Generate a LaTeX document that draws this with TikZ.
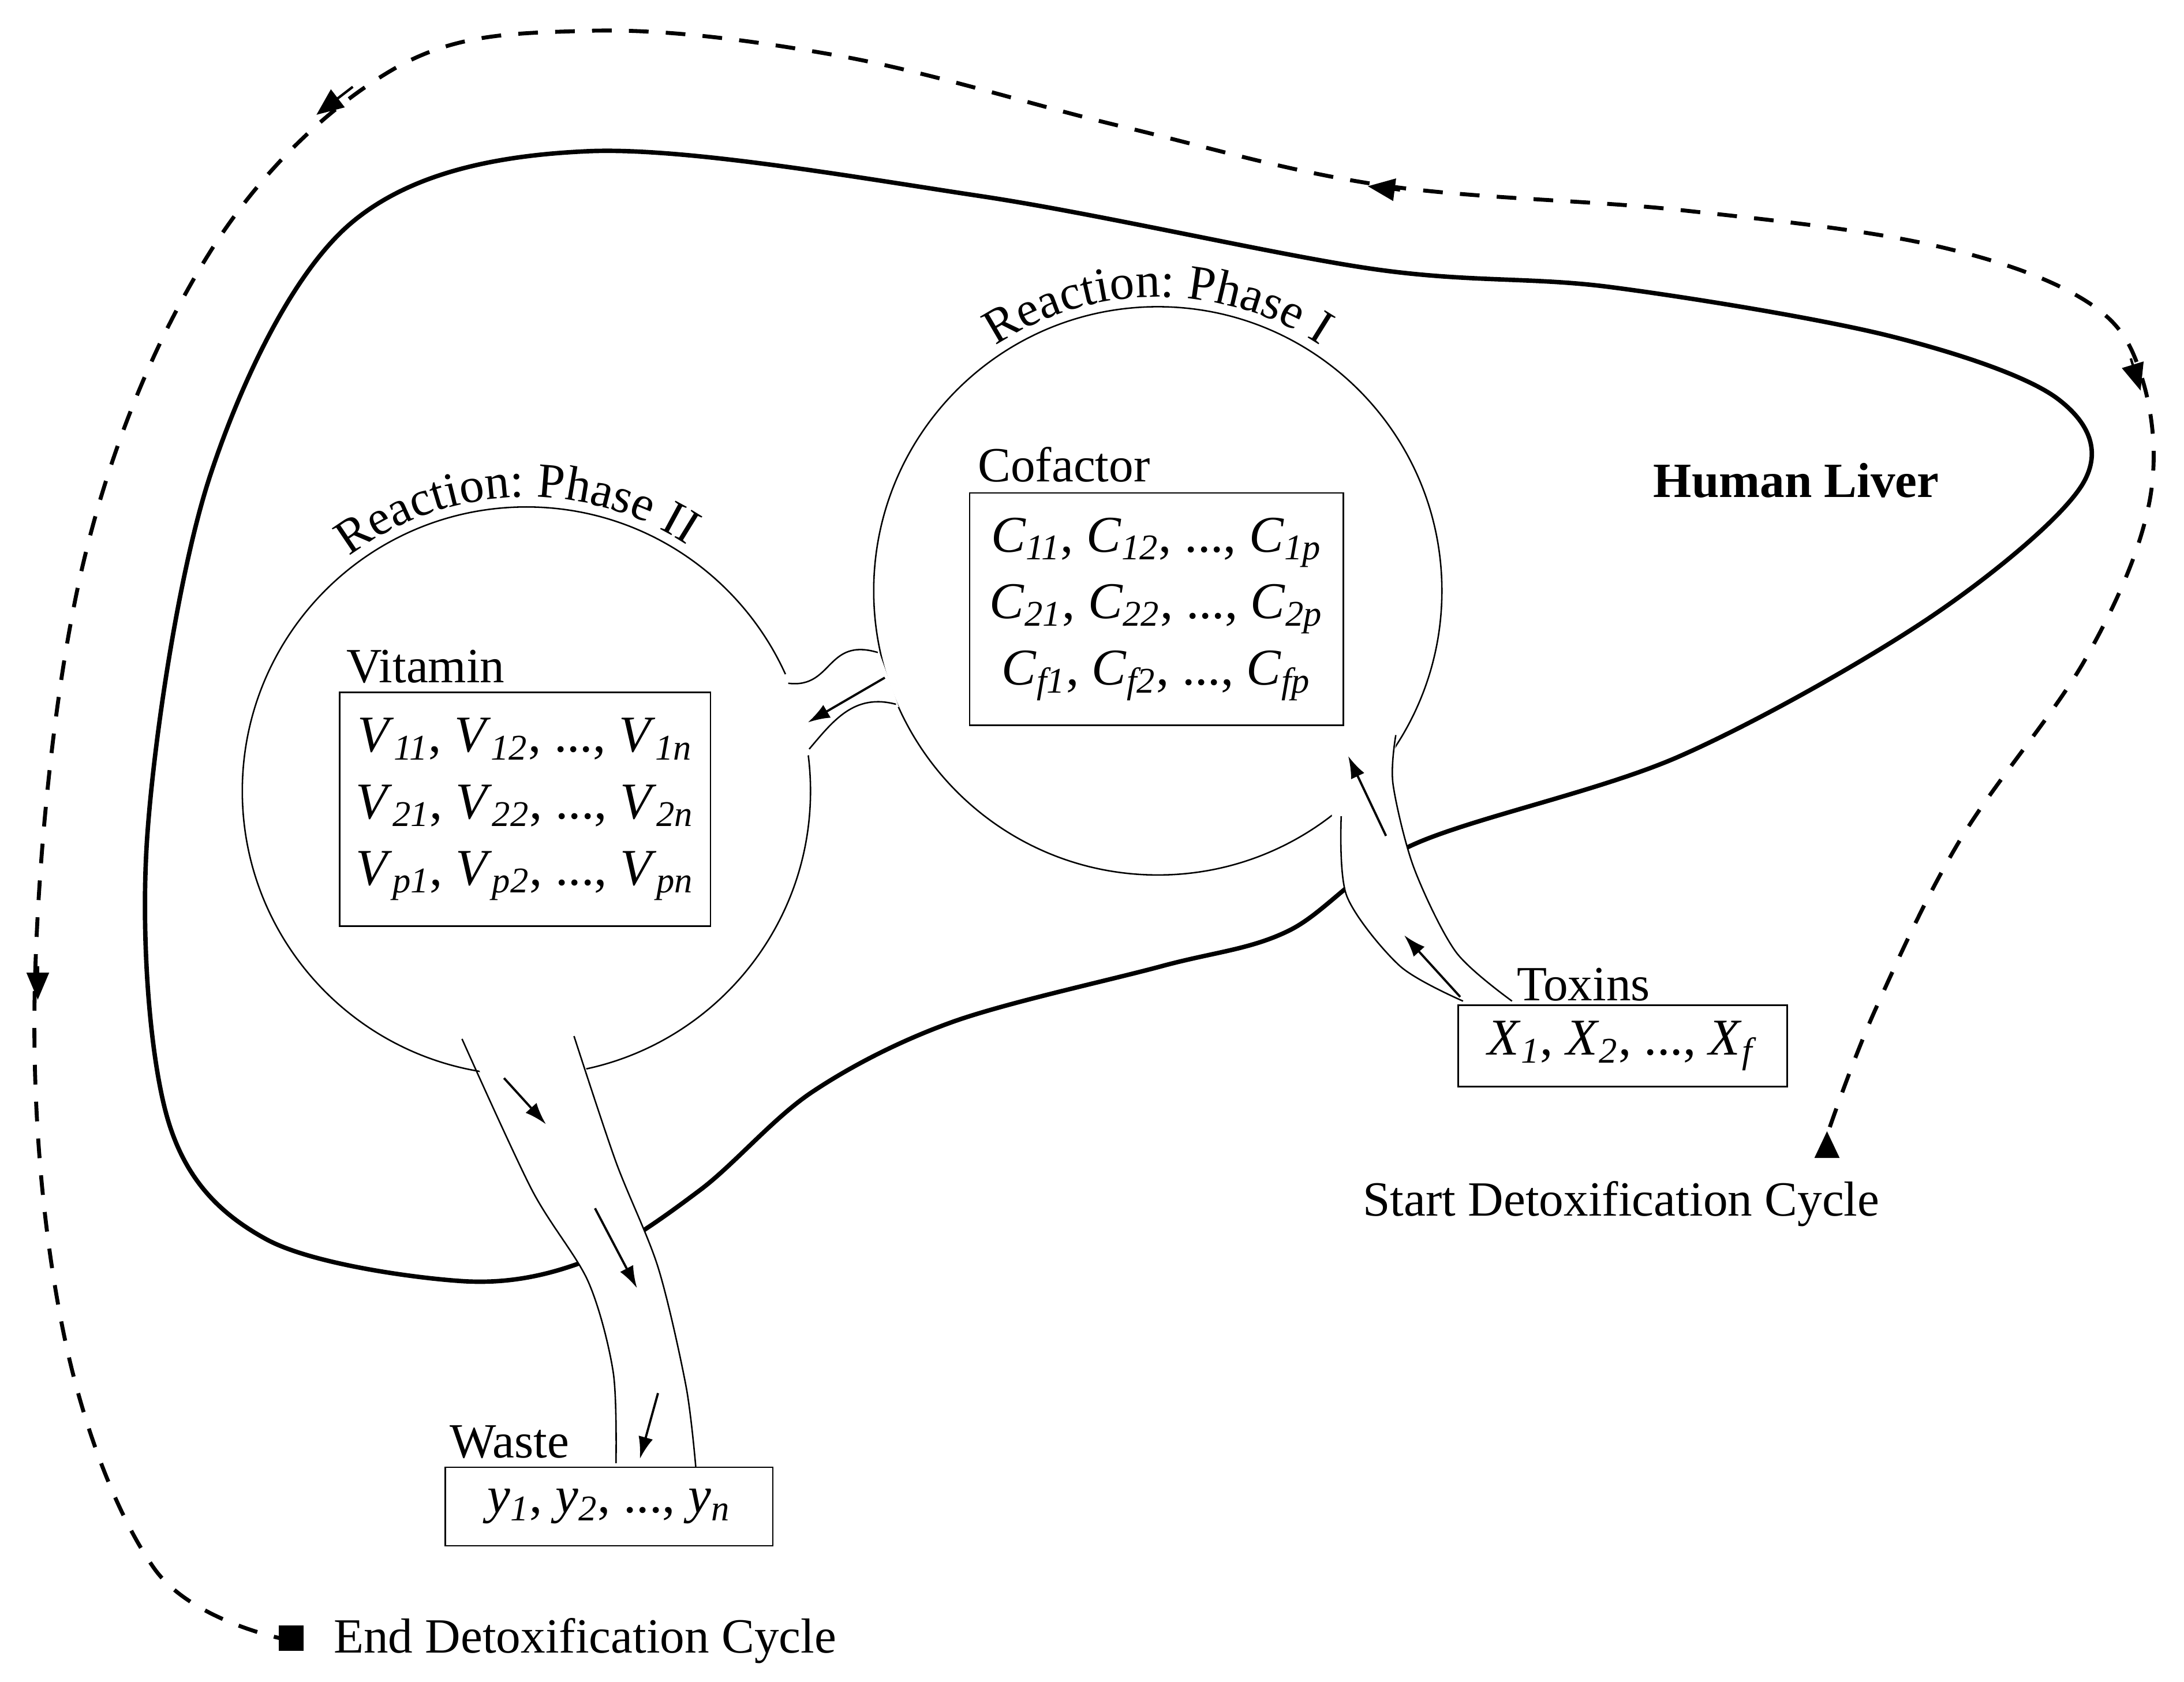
\documentclass[tikz,border=0pt]{standalone}
\usepackage{fontspec}
\setmainfont{Liberation Serif}
\usetikzlibrary{decorations.text,arrows.meta}
\newcommand{\sv}[2]{\textit{#1}\textsubscript{\textit{#2}}}
\begin{document}
\begin{tikzpicture}[x=0.02cm,y=-0.02cm,
  lbl/.style={font=\fontsize{20}{24}\selectfont, inner sep=0pt},
  box/.style={draw, line width=0.6pt, font=\fontsize{21}{27}\selectfont, align=center, inner sep=0pt},
  sar/.style={-{Latex[length=9pt,width=6pt]}, line width=0.9pt},
  dar/.style={-{Triangle[length=11pt,width=9pt]}, line width=1pt}]
\useasboundingbox (0,0) rectangle (1560,1201);
% liver
\draw[line width=1.8pt] plot[smooth cycle, tension=0.55] coordinates {
 (980,192) (700,140) (420,108) (250,160) (150,340) (105,600) (120,800) (190,885) (330,915) (420,900)
 (500,850) (580,780) (680,730) (830,690) (920,665) (1010,603) (1200,540) (1380,440) (1488,345) (1470,285) (1350,240) (1150,205)};
% circles
\node[circle, draw, line width=0.6pt, minimum size=231pt, fill=white] (c1) at (827,422) {};
\node[circle, draw, line width=0.6pt, minimum size=231pt, fill=white] (c2) at (376,565) {};
% channels
\fill[white] plot[smooth] coordinates {(330,735) (380,850) (420,915) (438,980) (440,1045)} -- plot[smooth] coordinates {(497,1048) (490,990) (470,905) (440,830) (410,735)} -- cycle;
\draw[line width=0.6pt] plot[smooth] coordinates {(330,742) (380,850) (420,915) (438,980) (440,1045)};
\draw[line width=0.6pt] plot[smooth] coordinates {(497,1048) (490,990) (470,905) (440,830) (410,740)};
\fill[white] plot[smooth] coordinates {(950,570) (962,640) (1000,690) (1045,718)} -- plot[smooth] coordinates {(1080,718) (1040,680) (1010,620) (995,560) (1000,515)} -- cycle;
\draw[line width=0.6pt] plot[smooth] coordinates {(958,583) (962,640) (1000,690) (1045,715)};
\draw[line width=0.6pt] plot[smooth] coordinates {(1080,715) (1040,680) (1010,620) (995,560) (997,525)};
\fill[white] (560,482) .. controls (590,470) and (600,450) .. (628,466) -- (642,505) .. controls (610,505) and (600,535) .. (575,540) -- cycle;
\draw[line width=0.6pt] (563,488) .. controls (595,492) and (590,455) .. (627,466);
\draw[line width=0.6pt] (578,535) .. controls (595,515) and (610,495) .. (640,503);
% small arrows
\draw[sar] (632,484) -- (577,516);
\draw[sar] (990,597) -- (963,540);
\draw[sar] (1043,712) -- (1003,668);
\draw[sar] (360,770) -- (390,803);
\draw[sar] (425,863) -- (455,920);
\draw[sar] (470,995) -- (457,1042);
% arc labels
\path[decorate, decoration={text along path, text align=center, text={|\fontsize{20}{24}\selectfont|Reaction: Phase I}}] (827,422) ++(-125:210) arc (-125:-55:210);
\path[decorate, decoration={text along path, text align=center, text={|\fontsize{20}{24}\selectfont|Reaction: Phase II}}] (376,565) ++(-132:210) arc (-132:-52:210);
% boxes
\node[box, minimum width=267*0.5691pt, minimum height=166*0.5691pt] (cof) at (826,435) {\sv{C}{11}, \sv{C}{12}, ..., \sv{C}{1p}\\ \sv{C}{21}, \sv{C}{22}, ..., \sv{C}{2p}\\ \sv{C}{f1}, \sv{C}{f2}, ..., \sv{C}{fp}};
\node[box, minimum width=265*0.5691pt, minimum height=167*0.5691pt] (vit) at (375,578) {\sv{V}{11}, \sv{V}{12}, ..., \sv{V}{1n}\\ \sv{V}{21}, \sv{V}{22}, ..., \sv{V}{2n}\\ \sv{V}{p1}, \sv{V}{p2}, ..., \sv{V}{pn}};
\node[box, minimum width=235*0.5691pt, minimum height=58*0.5691pt] (tox) at (1159,747) {\sv{X}{1}, \sv{X}{2}, ..., \sv{X}{f}};
\node[box, minimum width=234*0.5691pt, minimum height=56*0.5691pt] (was) at (435,1076) {\sv{y}{1}, \sv{y}{2}, ..., \sv{y}{n}};
\node[lbl] (lc) at (760,332) {Cofactor};
\node[lbl] (lv) at (304,476) {Vitamin};
\node[lbl] (lt) at (1131,703) {Toxins};
\node[lbl] (lw) at (364,1030) {Waste};
\node[lbl, font=\fontsize{20}{24}\selectfont\bfseries] (hl) at (1283,343) {Human Liver};
\node[lbl] (st) at (1158,860) {Start Detoxification Cycle};
\node[lbl, anchor=west] (en) at (238,1172) {End Detoxification Cycle};
% cycle
\draw[line width=1.6pt, dash pattern=on 8pt off 7pt] plot[smooth, tension=0.6] coordinates {
 (1307,805) (1340,720) (1400,600) (1490,470) (1535,360) (1530,270) (1490,215) (1380,175) (1200,150) (985,132) (800,90) (600,40) (420,22) (280,50) (150,180) (60,400) (25,700) (45,950) (110,1120) (200,1170)};
\fill (1296,827) -- (1314,827) -- (1305,808) -- cycle;
\fill (199,1161) rectangle (217,1179);
\draw[dar] (1522,256) -- (1529,279);
\draw[dar] (1000,136) -- (977,133);
\draw[dar] (252,62) -- (226,82);
\draw[dar] (27,690) -- (27,714);
\end{tikzpicture}
\end{document}
